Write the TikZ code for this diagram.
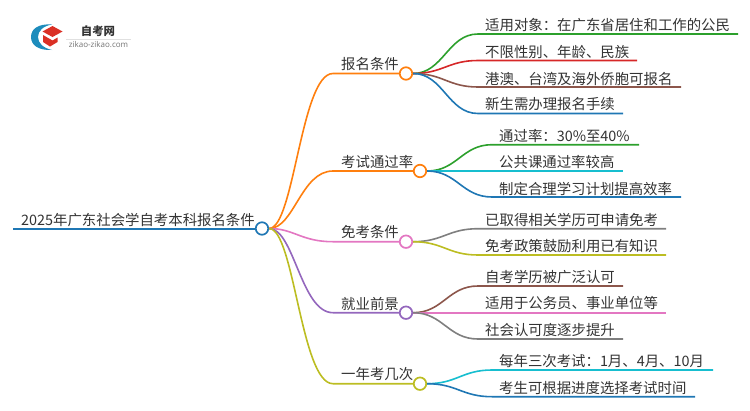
\documentclass[tikz,border=0pt]{standalone}
\usepackage{fontspec}
\usepackage{xcolor}
\newfontfamily\cjk{Noto Sans CJK SC}
\newfontfamily\latn{Open Sans}
\definecolor{ink}{HTML}{333333}
\definecolor{rootblue}{HTML}{1F77B4}
\definecolor{orange}{HTML}{FF7F0E}
\definecolor{green}{HTML}{2CA02C}
\definecolor{red}{HTML}{D62728}
\definecolor{brown}{HTML}{8C564B}
\definecolor{cyan}{HTML}{17BECF}
\definecolor{pink}{HTML}{E377C2}
\definecolor{gray}{HTML}{7F7F7F}
\definecolor{olive}{HTML}{BCBD22}
\definecolor{purple}{HTML}{9467BD}
\tikzset{
  lbl/.style={text=ink, font=\cjk\fontsize{14.4}{16}\selectfont, anchor=west, inner sep=0pt},
  link/.style={line width=1.6pt},
  dot/.style={circle, draw=#1, fill=white, line width=1.7pt, minimum size=12.5pt, inner sep=0pt}
}

\begin{document}
\begin{tikzpicture}[x=1pt,y=-1pt]
  \useasboundingbox (0,0) rectangle (750,410);

  % logo
  \fill[rootblue!70!cyan] (31,37) .. controls (31,29) and (38,23.5) .. (52,24.5)
    .. controls (43,26) and (38,31) .. (38,37) .. controls (38,43) and (43,48) .. (52,50)
    .. controls (38,50.5) and (31,45) .. cycle;
  \fill[red!90!orange] (52.5,26) -- (62.5,31.5) -- (52.5,37) -- (42.5,31.5) -- cycle;
  \fill[red!90!orange] (43,35) -- (52.5,40.5) -- (57.5,37.5) -- (57.5,42)
    -- (50,46.5) -- (43,42) -- cycle;
  \node[font=\cjk\bfseries\fontsize{11.4}{12}\selectfont, text=ink, inner sep=0pt] (logoname) at (98,31) {自考网};
  \draw[black!12, line width=0.6pt] (66,39) -- (131,39);
  \node[font=\latn\fontsize{8}{9}\selectfont, text=black!55, inner sep=0pt] (logourl) at (98.5,45) {zikao-zikao.com};

  % root
  \coordinate (rs) at (13,228.5);
  \node[dot=rootblue] (rt) at (262,228.5) {};
  \draw[rootblue, line width=2pt] (rs) -- (rt);
  \node[lbl] at (21,220) {2025年广东社会学自考本科报名条件};

  % branch nodes
  \node[dot=orange] (b1) at (406,73.5) {};
  \node[dot=orange] (b2) at (420,171) {};
  \node[dot=pink] (b3) at (406,241.7) {};
  \node[dot=purple] (b4) at (406,312.7) {};
  \node[dot=olive] (b5) at (420,383.7) {};
  \node[lbl] at (341,64.5) {报名条件};
  \node[lbl] at (341,162) {考试通过率};
  \node[lbl] at (341,232.5) {免考条件};
  \node[lbl] at (341,303.5) {就业前景};
  \node[lbl] at (341,374.5) {一年考几次};

  % root to branches
  \draw[link, orange] (rt.east) .. controls +(25,0) and +(-32,0) .. (333,73.5) -- (b1);
  \draw[link, orange] (rt.east) .. controls +(25,0) and +(-32,0) .. (333,171) -- (b2);
  \draw[link, pink] (rt.east) .. controls +(25,0) and +(-32,0) .. (333,241.7) -- (b3);
  \draw[link, purple] (rt.east) .. controls +(25,0) and +(-32,0) .. (333,312.7) -- (b4);
  \draw[link, olive] (rt.east) .. controls +(25,0) and +(-32,0) .. (333,383.7) -- (b5);

  % first branch
  \draw[link, green] (b1.east) .. controls +(30,0) and +(-30,0) .. (478,34) -- (738,34);
  \draw[link, red] (b1.east) .. controls +(30,0) and +(-30,0) .. (478,60.5) -- (637,60.5);
  \draw[link, brown] (b1.east) .. controls +(30,0) and +(-30,0) .. (478,87) -- (681,87);
  \draw[link, rootblue] (b1.east) .. controls +(30,0) and +(-30,0) .. (478,113.5) -- (623,113.5);
  \node[lbl] at (485,25) {适用对象：在广东省居住和工作的公民};
  \node[lbl] at (485,52) {不限性别、年龄、民族};
  \node[lbl] at (485,78.5) {港澳、台湾及海外侨胞可报名};
  \node[lbl] at (485,104.5) {新生需办理报名手续};

  % second branch
  \draw[link, green] (b2.east) .. controls +(30,0) and +(-30,0) .. (492,144.7) -- (639,144.7);
  \draw[link, cyan] (b2.east) -- (623,171);
  \draw[link, rootblue] (b2.east) .. controls +(30,0) and +(-30,0) .. (492,197) -- (681,197);
  \node[lbl] at (499,136) {通过率：30\%至40\%};
  \node[lbl] at (499,162) {公共课通过率较高};
  \node[lbl] at (499,188.5) {制定合理学习计划提高效率};

  % third branch
  \draw[link, gray] (b3.east) .. controls +(30,0) and +(-30,0) .. (478,228.7) -- (666,228.7);
  \draw[link, olive] (b3.east) .. controls +(30,0) and +(-30,0) .. (478,255) -- (666,255);
  \node[lbl] at (485,220) {已取得相关学历可申请免考};
  \node[lbl] at (485,246.5) {免考政策鼓励利用已有知识};

  % fourth branch
  \draw[link, brown] (b4.east) .. controls +(30,0) and +(-30,0) .. (478,286) -- (623,286);
  \draw[link, pink] (b4.east) -- (666,312.7);
  \draw[link, gray] (b4.east) .. controls +(30,0) and +(-30,0) .. (478,339) -- (623,339);
  \node[lbl] at (485,277) {自考学历被广泛认可};
  \node[lbl] at (485,303.5) {适用于公务员、事业单位等};
  \node[lbl] at (485,330) {社会认可度逐步提升};

  % fifth branch
  \draw[link, cyan] (b5.east) .. controls +(30,0) and +(-30,0) .. (492,370) -- (713,370);
  \draw[link, rootblue] (b5.east) .. controls +(30,0) and +(-30,0) .. (492,396.7) -- (695,396.7);
  \node[lbl] at (499,361) {每年三次考试：1月、4月、10月};
  \node[lbl] at (499,388) {考生可根据进度选择考试时间};
\end{tikzpicture}
\end{document}
